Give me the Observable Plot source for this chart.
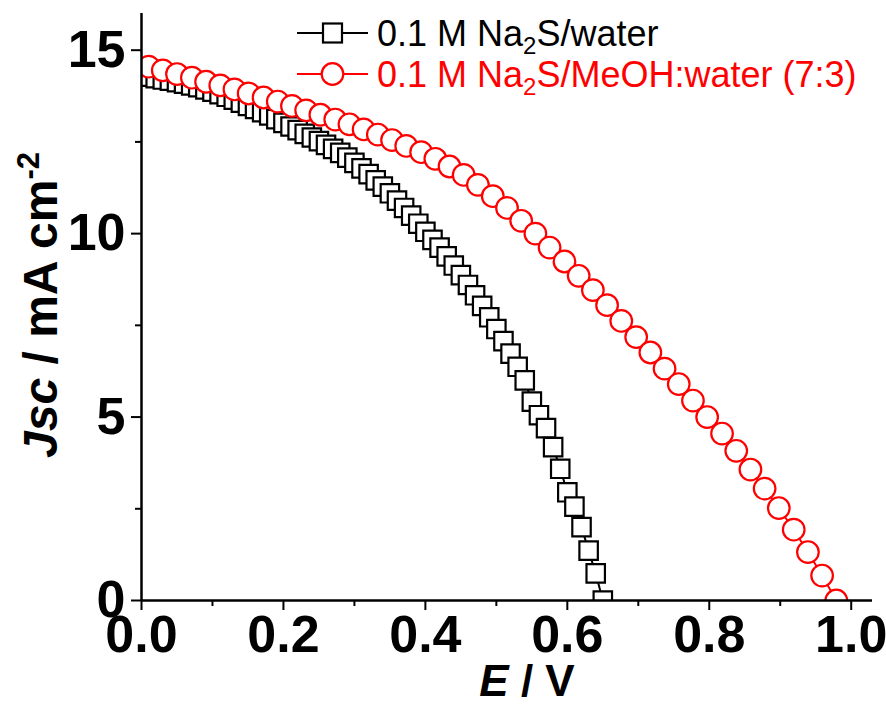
<!DOCTYPE html>
<html><head><meta charset="utf-8">
<script src="https://cdn.jsdelivr.net/npm/d3@7"></script>
<script src="https://cdn.jsdelivr.net/npm/@observablehq/plot@0.6"></script>
<style>
body{margin:0;background:#fff}
#chart{position:relative;width:886px;height:708px}
</style>
</head><body><div id="chart"></div>
<script>
// Series 1: 0.1 M Na2S/water (black squares)
const blackE = [0.00,0.01,0.02,0.03,0.04,0.05,0.06,0.07,0.08,0.09,0.10,0.11,0.12,0.13,0.14,0.15,0.16,0.17,0.18,0.19,0.20,0.21,0.22,0.23,0.24,0.25,0.26,0.27,0.28,0.29,0.30,0.31,0.32,0.33,0.34,0.35,0.36,0.37,0.38,0.39,0.40,0.41,0.42,0.43,0.44,0.45,0.46,0.47,0.48,0.49,0.50,0.51,0.52,0.53,0.54,0.55,0.56,0.57,0.58,0.59,0.60,0.61,0.62,0.63,0.64,0.65];
const blackJ = [14.30,14.28,14.24,14.20,14.17,14.13,14.09,14.04,13.99,13.93,13.87,13.80,13.73,13.65,13.57,13.48,13.40,13.31,13.22,13.12,13.02,12.92,12.82,12.72,12.62,12.52,12.42,12.31,12.20,12.07,11.93,11.78,11.62,11.45,11.28,11.10,10.90,10.70,10.49,10.27,10.05,9.83,9.62,9.38,9.13,8.87,8.60,8.32,8.03,7.72,7.40,7.07,6.73,6.37,6.00,5.42,5.05,4.70,4.18,3.59,2.95,2.56,2.00,1.36,0.74,0.00];
// Series 2: 0.1 M Na2S/MeOH:water (7:3) (red circles)
const redE = [0.010,0.030,0.050,0.071,0.091,0.111,0.131,0.151,0.172,0.192,0.212,0.232,0.252,0.273,0.293,0.313,0.333,0.353,0.373,0.394,0.414,0.434,0.454,0.474,0.495,0.515,0.535,0.555,0.575,0.596,0.616,0.636,0.656,0.676,0.697,0.717,0.737,0.757,0.777,0.797,0.818,0.838,0.858,0.878,0.898,0.919,0.939,0.959,0.979];
const redJ = [14.55,14.45,14.35,14.25,14.14,14.04,13.93,13.82,13.71,13.60,13.48,13.36,13.24,13.11,12.98,12.84,12.70,12.55,12.39,12.22,12.04,11.83,11.60,11.33,11.02,10.70,10.35,10.00,9.62,9.24,8.85,8.46,8.05,7.62,7.18,6.76,6.32,5.90,5.45,5.00,4.55,4.08,3.57,3.05,2.52,1.93,1.32,0.68,0.00];

const xMajorTicks = [0, 0.2, 0.4, 0.6, 0.8, 1.0];
const xMinorTicks = [0.1, 0.3, 0.5, 0.7, 0.9];
const yMajorTicks = [0, 5, 10, 15];
const yMinorTicks = [2.5, 7.5, 12.5];
const seriesLabels = ["0.1 M Na2S/water", "0.1 M Na2S/MeOH:water (7:3)"];
const seriesColors = ["#000000", "#ff0000"];

const black = blackE.map((e, i) => ({E: e, J: blackJ[i]}));
const red = redE.map((e, i) => ({E: e, J: redJ[i]}));

const FONT = "'Liberation Sans', Arial, sans-serif";

const chart = Plot.plot({
  width: 886, height: 708,
  marginLeft: 141, marginRight: 14, marginTop: 13, marginBottom: 108,
  style: {fontFamily: FONT, background: "white", color: "black", overflow: "visible"},
  x: {domain: [0, 1.03]},
  y: {domain: [0, 16]},
  marks: [
    Plot.line(black, {x: "E", y: "J", stroke: seriesColors[0], strokeWidth: 2, clip: true}),
    Plot.dot(black, {x: "E", y: "J", symbol: "square", r: 10.4, stroke: seriesColors[0], fill: "white", strokeWidth: 2.2, clip: true}),
    Plot.line(red, {x: "E", y: "J", stroke: seriesColors[1], strokeWidth: 2, clip: true}),
    Plot.dot(red, {x: "E", y: "J", symbol: "circle", r: 10.8, stroke: seriesColors[1], fill: "white", strokeWidth: 2.2, clip: true}),
    Plot.ruleX([0], {stroke: "black", strokeWidth: 2.5}),
    Plot.ruleY([0], {stroke: "black", strokeWidth: 2.5}),
    Plot.axisX({ticks: xMajorTicks, tickSize: 10, tickPadding: 5, strokeWidth: 2, fontSize: 52, fontWeight: "bold", tickFormat: d => d.toFixed(1), label: null}),
    Plot.axisX({ticks: xMinorTicks, tickSize: 6, strokeWidth: 2, tickFormat: () => "", label: null}),
    Plot.axisY({ticks: yMajorTicks, tickSize: 10, tickPadding: 6, strokeWidth: 2, fontSize: 52, fontWeight: "bold", tickFormat: d => String(d), label: null}),
    Plot.axisY({ticks: yMinorTicks, tickSize: 6, strokeWidth: 2, tickFormat: () => "", label: null})
  ]
});
document.getElementById("chart").appendChild(chart);

const svg = d3.select(chart);
// Y axis title
const yt = svg.append("text")
  .attr("transform", "translate(57,305) rotate(-90)")
  .attr("text-anchor", "middle").attr("font-family", FONT)
  .attr("font-size", 48).attr("font-weight", "bold").attr("fill", "black");
yt.append("tspan").attr("font-style", "italic").text("Jsc");
yt.append("tspan").text(" / mA cm");
yt.append("tspan").attr("font-size", 31).attr("dy", -18).text("-2");

// X axis title
const xt = svg.append("text")
  .attr("x", 527).attr("y", 696)
  .attr("text-anchor", "middle").attr("font-family", FONT)
  .attr("font-size", 44).attr("font-weight", "bold").attr("fill", "black");
xt.append("tspan").attr("font-style", "italic").text("E");
xt.append("tspan").text(" / V");

// Legend
const lg = svg.append("g").attr("font-family", FONT).attr("text-anchor", "start");
[{cy: 33, by: 46}, {cy: 74, by: 87}].forEach((row, i) => {
  const c = seriesColors[i];
  lg.append("line").attr("x1", 297).attr("x2", 368).attr("y1", row.cy).attr("y2", row.cy)
    .attr("stroke", c).attr("stroke-width", 2);
  if (i === 0) {
    lg.append("rect").attr("x", 332.5 - 9.5).attr("y", row.cy - 9.5).attr("width", 19).attr("height", 19)
      .attr("fill", "white").attr("stroke", c).attr("stroke-width", 2.2);
  } else {
    lg.append("circle").attr("cx", 332.5).attr("cy", row.cy).attr("r", 10.8)
      .attr("fill", "white").attr("stroke", c).attr("stroke-width", 2.2);
  }
  const parts = seriesLabels[i].split("Na2S");
  const t = lg.append("text").attr("x", 377).attr("y", row.by).attr("font-size", 36)
    .attr("fill", c).attr("text-anchor", "start");
  t.append("tspan").text(parts[0] + "Na");
  t.append("tspan").attr("font-size", 24).attr("dy", 8).text("2");
  t.append("tspan").attr("dy", -8).text("S" + parts[1]);
});
</script>
</body></html>
